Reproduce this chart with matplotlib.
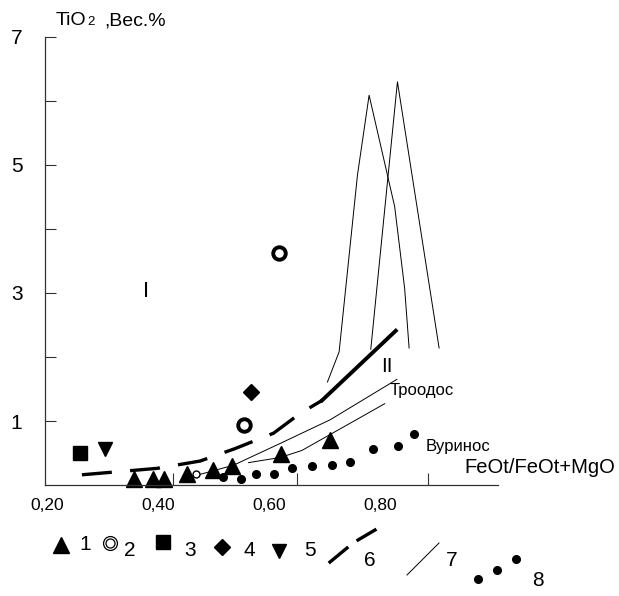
import matplotlib.pyplot as plt

plt.rcParams['font.family'] = ['Liberation Sans', 'DejaVu Sans']

# 1 - triangles
tri_x = [0.356, 0.391, 0.411, 0.453, 0.499, 0.533, 0.621, 0.710]
tri_y = [0.10, 0.10, 0.10, 0.17, 0.23, 0.29, 0.49, 0.71]
# 2 - rings
ring_x = [0.617, 0.555]
ring_y = [3.62, 0.94]
ring_small_x = [0.469]
ring_small_y = [0.17]
# 3 - square, 4 - diamond, 5 - down triangle
sq_x, sq_y = [0.259], [0.50]
dia_x, dia_y = [0.567], [1.46]
dtri_x, dtri_y = [0.305], [0.57]
# 6 - dashed trend
tr6_x = [0.263, 0.398, 0.476, 0.539, 0.608, 0.656, 0.695]
tr6_y = [0.16, 0.26, 0.375, 0.57, 0.81, 1.12, 1.32]
tr6_end_x = [0.695, 0.828]
tr6_end_y = [1.32, 2.41]
# 7 - thin fields
troodos_a_x = [0.473, 0.536, 0.620, 0.710, 0.830]
troodos_a_y = [0.16, 0.31, 0.65, 1.02, 1.65]
troodos_b_x = [0.563, 0.620, 0.659, 0.808]
troodos_b_y = [0.35, 0.43, 0.54, 1.27]
spike1_x = [0.705, 0.726, 0.759, 0.780, 0.826, 0.844, 0.852]
spike1_y = [1.61, 2.08, 4.84, 6.09, 4.35, 3.07, 2.14]
spike2_x = [0.783, 0.831, 0.906]
spike2_y = [2.12, 6.30, 2.14]
# 8 - Vourinos dots
vur_x = [0.517, 0.549, 0.576, 0.608, 0.641, 0.677, 0.714, 0.746, 0.787, 0.832, 0.861]
vur_y = [0.13, 0.09, 0.17, 0.18, 0.26, 0.30, 0.31, 0.36, 0.57, 0.61, 0.80]

xlabels = ['0,20', '0,40', '0,60', '0,80']
xlabel_pos = [0.2, 0.4, 0.6, 0.8]
ylabels = ['1', '', '3', '', '5', '', '7']

fig = plt.figure(figsize=(6.19, 5.96), dpi=100)
ax = fig.add_axes([0.0722, 0.1862, 0.7323, 0.7518])
ax.set_xlim(0.196, 1.012)
ax.set_ylim(0, 7)

for s in ['top', 'right']:
    ax.spines[s].set_visible(False)
for s in ['left', 'bottom']:
    ax.spines[s].set_color('#333333')
    ax.spines[s].set_linewidth(0.9)

ax.set_yticks(range(1, 8))
ax.set_yticklabels(ylabels)
ax.tick_params(axis='y', direction='in', length=8, width=0.8, color='#333333',
               labelsize=15, pad=16)
ax.set_xticks(xlabel_pos)
ax.set_xticklabels(xlabels)
ax.tick_params(axis='x', which='major', length=0, labelsize=12.5, pad=9)
ax.set_xticks([0.427, 0.651, 0.886], minor=True)
ax.tick_params(axis='x', which='minor', direction='in', length=9, width=0.8, color='#333333')

k = 'black'
ax.plot(spike1_x, spike1_y, color=k, lw=0.7)
ax.plot(spike2_x, spike2_y, color=k, lw=0.7)
ax.plot(troodos_a_x, troodos_a_y, color=k, lw=0.7)
ax.plot(troodos_b_x, troodos_b_y, color=k, lw=0.7)
ax.plot(tr6_x, tr6_y, color=k, lw=2.4, dashes=(9, 5.5), solid_capstyle='butt')
ax.plot(tr6_end_x, tr6_end_y, color=k, lw=2.8)

ax.plot(tri_x, tri_y, '^', color=k, ms=11, clip_on=False)
ax.plot(ring_x, ring_y, 'o', mfc='white', mec=k, ms=9, mew=2.8)
ax.plot(ring_small_x, ring_small_y, 'o', mfc='white', mec=k, ms=5, mew=1.0)
ax.plot(sq_x, sq_y, 's', color=k, ms=10)
ax.plot(dia_x, dia_y, 'D', color=k, ms=8.5)
ax.plot(dtri_x, dtri_y, 'v', color=k, ms=9.5)
ax.plot(vur_x, vur_y, 'o', color=k, ms=5.5)

ax.text(0.379, 3.03, 'I', fontsize=16, ha='center', va='center')
ax.text(0.812, 1.85, 'II', fontsize=15, ha='center', va='center')
ax.text(0.817, 1.47, 'Троодос', fontsize=12, ha='left', va='center')
ax.text(0.882, 0.60, 'Вуринос', fontsize=12, ha='left', va='center', clip_on=False)
ax.text(0.952, 0.27, 'FeOt/FeOt+MgO', fontsize=14.5, ha='left', va='center', clip_on=False)

# overlay in pixel coordinates for title and legend
lax = fig.add_axes([0, 0, 1, 1])
lax.set_xlim(0, 619)
lax.set_ylim(596, 0)
lax.axis('off')
lax.patch.set_alpha(0)

lax.text(56, 25, 'TiO', fontsize=14, va='baseline')
lax.text(87, 25, '2', fontsize=9.5, va='baseline')
lax.text(104, 25, ',Вес.%', fontsize=14, va='baseline')

ly = 545
lax.plot([61], [ly], '^', color=k, ms=11)
lax.text(85, ly, '1', fontsize=15, ha='center', va='center')
lax.plot([110], [ly - 2], 'o', mfc='white', mec=k, ms=10, mew=0.9)
lax.plot([110], [ly - 2], 'o', mfc='white', mec=k, ms=6.5, mew=0.9)
lax.text(130, ly + 6, '2', fontsize=15, ha='center', va='center')
lax.plot([163], [ly - 3], 's', color=k, ms=10)
lax.text(190, ly + 6, '3', fontsize=15, ha='center', va='center')
lax.plot([222], [ly + 2], 'D', color=k, ms=8.5)
lax.text(249, ly + 6, '4', fontsize=15, ha='center', va='center')
lax.plot([279], [ly + 6], 'v', color=k, ms=10)
lax.text(310, ly + 6, '5', fontsize=15, ha='center', va='center')
lax.plot([330, 347], [ly + 17, ly + 3], color=k, lw=2.4)
lax.plot([358, 375], [ly - 5, ly - 15], color=k, lw=2.4)
lax.text(370, ly + 15, '6', fontsize=15, ha='center', va='center')
lax.plot([407, 439], [ly + 30, ly - 2], color=k, lw=0.7)
lax.text(452, ly + 16, '7', fontsize=15, ha='center', va='center')
lax.plot([478, 497, 516], [ly + 34, ly + 25, ly + 14], 'o', color=k, ms=5.5)
lax.text(538, ly + 36, '8', fontsize=15, ha='center', va='center')

fig.savefig('out.png', dpi=100)
